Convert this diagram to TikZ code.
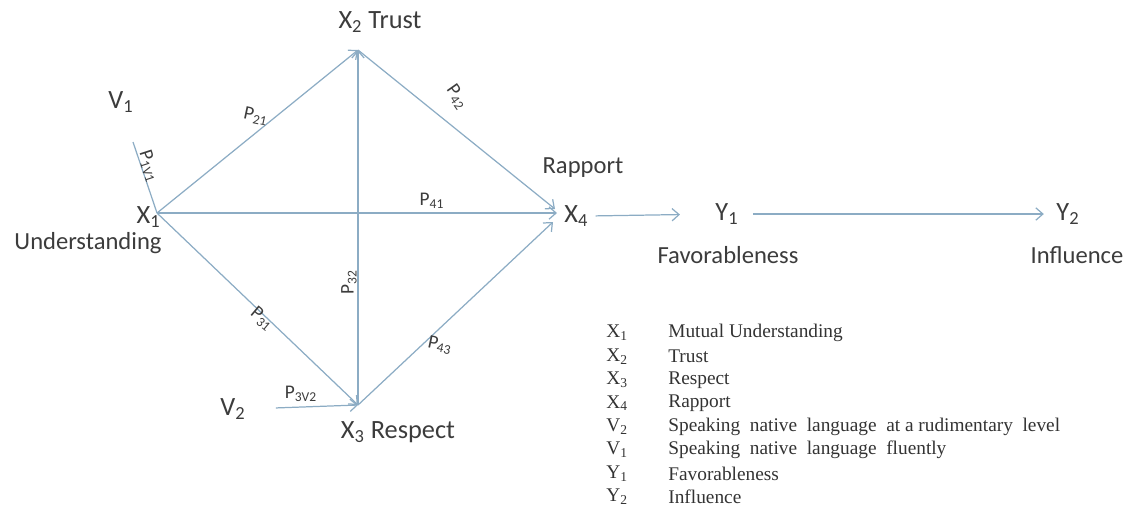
\documentclass[tikz,border=0pt]{standalone}
\usepackage{fontspec}
\setmainfont{Carlito}
\newfontfamily\legendfont{Liberation Serif}
\usetikzlibrary{arrows.meta,positioning}
\definecolor{pathblue}{RGB}{140,172,196}
\definecolor{labelgray}{RGB}{60,60,60}

\begin{document}
\begin{tikzpicture}[x=0.02cm,y=-0.02cm,
    path/.style={pathblue, line width=0.7pt, -{Straight Barb[length=4pt,width=7pt]}},
    varlab/.style={labelgray, font=\fontsize{15}{17}\selectfont, inner sep=0pt},
    namelab/.style={labelgray, font=\fontsize{14}{16}\selectfont, inner sep=0pt},
    coef/.style={labelgray, font=\fontsize{11}{12}\selectfont, inner sep=0pt},
    legend/.style={black!80, font=\legendfont\fontsize{11}{12}\selectfont, anchor=west, inner sep=0pt}]
  \useasboundingbox (0,0) rectangle (1125,505);
  % Junctions of the path model
  \coordinate (x1) at (157,213);
  \coordinate (x2) at (358,50);
  \coordinate (x3) at (358,405);
  \coordinate (x4) at (557,213);
  \coordinate (v1end) at (133,142);
  % Variable labels
  \node[varlab, anchor=east] (x1lab) at (161,217) {X\textsubscript{1}};
  \node[namelab] (under) at (88,243) {Understanding};
  \node[varlab] (v1) at (121,102) {V\textsubscript{1}};
  \node[varlab] (x2lab) at (380,22) {X\textsubscript{2} Trust};
  \node[varlab] (x3lab) at (398,432) {X\textsubscript{3} Respect};
  \node[varlab] (v2) at (233,409) {V\textsubscript{2}};
  \node[varlab, anchor=west] (x4lab) at (564,216) {X\textsubscript{4}};
  \node[namelab] (rapport) at (583,168) {Rapport};
  \node[varlab] (y1) at (727,214) {Y\textsubscript{1}};
  \node[namelab] (favor) at (728,255) {Favorableness};
  \node[varlab] (y2) at (1068,214) {Y\textsubscript{2}};
  \node[namelab] (influ) at (1077,255) {Influence};
  % Paths
  \draw[pathblue, line width=0.7pt] (v1end) -- (x1);
  \draw[path] (x1) -- (x2);
  \draw[path] (x1) -- (x4);
  \draw[path] (x1) -- (x3);
  \draw[path] (x3) -- (x2);
  \draw[path] (x2) -- ([shift={(-2,-4)}]x4);
  \draw[path] (x3) -- ([shift={(-4,9)}]x4);
  \draw[path, shorten <=17pt] (v2.east) -- (x3);
  \draw[path, shorten <=4pt, shorten >=20pt] (x4lab.east) -- (y1.west);
  \draw[path, shorten <=8pt, shorten >=7pt] (y1.east) -- (y2.west);
  % Path coefficients
  \node[coef, rotate=-72] (p1v1) at (149,166) {P\textsubscript{1V1}};
  \node[coef, rotate=-12] (p21) at (256,116) {P\textsubscript{21}};
  \node[coef, rotate=-55] (p42) at (457,97) {P\textsubscript{42}};
  \node[coef] (p41) at (432,201) {P\textsubscript{41}};
  \node[coef, rotate=90] (p32) at (349,282) {P\textsubscript{32}};
  \node[coef, rotate=-40] (p31) at (262,319) {P\textsubscript{31}};
  \node[coef, rotate=-12] (p43) at (440,345) {P\textsubscript{43}};
  \node[coef] (p3v2) at (301,394) {P\textsubscript{3V2}};
  % Legend
  \foreach \sym/\txt [count=\i from 0] in {X\textsubscript{1}/Mutual  Understanding,
      X\textsubscript{2}/Trust, X\textsubscript{3}/Respect, X\textsubscript{4}/Rapport,
      V\textsubscript{2}/Speaking\ \ native\ \ language\ \ at a rudimentary\ \ level,
      V\textsubscript{1}/Speaking\ \ native\ \ language\ \ fluently,
      Y\textsubscript{1}/Favorableness, Y\textsubscript{2}/Influence} {
    \node[legend] (sym\i) at (606,333+23.4*\i) {\sym};
    \node[legend] (txt\i) at (668,333+23.4*\i) {\txt};
  }
\end{tikzpicture}
\end{document}
